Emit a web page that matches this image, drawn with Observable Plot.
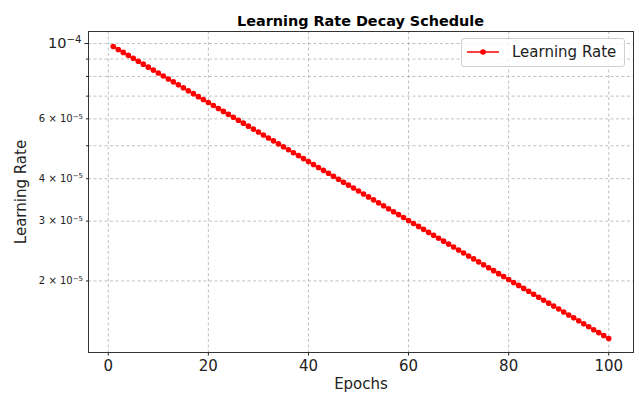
<!DOCTYPE html>
<html><head><meta charset="utf-8">
<script src="https://cdn.jsdelivr.net/npm/d3@7"></script>
<script src="https://cdn.jsdelivr.net/npm/@observablehq/plot@0.6"></script>
<style>
body{margin:0;background:#fff;font-family:"DejaVu Sans",sans-serif;}
#wrap{position:relative;width:639px;height:396px;overflow:hidden;}
#title{position:absolute;left:88px;width:545px;top:12px;text-align:center;font-weight:bold;font-size:14.4px;color:#000;line-height:18px;}
#legend{position:absolute;left:461px;top:38px;width:162px;height:27px;border:1px solid #d0d0d0;border-radius:3px;background:rgba(255,255,255,0.85);}
#legend svg{position:absolute;left:0;top:0;}
#legend span{position:absolute;left:50px;top:3px;font-size:15px;color:#222;line-height:20px;white-space:nowrap;}
</style></head>
<body>
<div id="wrap">
<div id="chart"></div>
<div id="title">Learning Rate Decay Schedule</div>
<div id="legend"><svg width="50" height="28"><line x1="5" x2="37" y1="13" y2="13" stroke="#ff0000" stroke-width="1.5"/><circle cx="21" cy="13" r="2.8" fill="#ff0000"/></svg><span>Learning Rate</span></div>
</div>
<script>
const epochs = [1,2,3,4,5,6,7,8,9,10,11,12,13,14,15,16,17,18,19,20,21,22,23,24,25,26,27,28,29,30,31,32,33,34,35,36,37,38,39,40,41,42,43,44,45,46,47,48,49,50,51,52,53,54,55,56,57,58,59,60,61,62,63,64,65,66,67,68,69,70,71,72,73,74,75,76,77,78,79,80,81,82,83,84,85,86,87,88,89,90,91,92,93,94,95,96,97,98,99,100];
const learningRate = [
9.802e-5,9.608e-5,9.418e-5,9.231e-5,9.048e-5,8.869e-5,8.694e-5,8.521e-5,8.353e-5,8.187e-5,
8.025e-5,7.866e-5,7.711e-5,7.558e-5,7.408e-5,7.262e-5,7.118e-5,6.977e-5,6.839e-5,6.703e-5,
6.571e-5,6.440e-5,6.313e-5,6.188e-5,6.065e-5,5.945e-5,5.828e-5,5.712e-5,5.599e-5,5.488e-5,
5.379e-5,5.273e-5,5.169e-5,5.066e-5,4.966e-5,4.868e-5,4.771e-5,4.677e-5,4.584e-5,4.493e-5,
4.404e-5,4.317e-5,4.232e-5,4.148e-5,4.066e-5,3.985e-5,3.906e-5,3.829e-5,3.753e-5,3.679e-5,
3.606e-5,3.535e-5,3.465e-5,3.396e-5,3.329e-5,3.263e-5,3.198e-5,3.135e-5,3.073e-5,3.012e-5,
2.952e-5,2.894e-5,2.837e-5,2.780e-5,2.725e-5,2.671e-5,2.619e-5,2.567e-5,2.516e-5,2.466e-5,
2.417e-5,2.369e-5,2.322e-5,2.276e-5,2.231e-5,2.187e-5,2.144e-5,2.101e-5,2.060e-5,2.019e-5,
1.979e-5,1.940e-5,1.901e-5,1.864e-5,1.827e-5,1.791e-5,1.755e-5,1.720e-5,1.686e-5,1.653e-5,
1.620e-5,1.588e-5,1.557e-5,1.526e-5,1.496e-5,1.466e-5,1.437e-5,1.409e-5,1.381e-5,1.353e-5];
const xTicks = [0,20,40,60,80,100];
const yMajorTicks = [1e-4];
const yMinorTicks = [2e-5,3e-5,4e-5,5e-5,6e-5,7e-5,8e-5,9e-5];
const yMinorLabels = {"2e-5":"2","3e-5":"3","4e-5":"4","6e-5":"6"};

const data = epochs.map((e,i)=>({epoch:e, lr:learningRate[i]}));

const fmtKey = v => Math.round(v/1e-5) + "e-5";

const chart = Plot.plot({
  width: 639,
  height: 396,
  marginTop: 31,
  marginBottom: 44,
  marginLeft: 88,
  marginRight: 6,
  style: {fontFamily: "DejaVu Sans, sans-serif", color: "#222", background: "#fff"},
  x: {domain: [-3.95, 104.95], axis: null},
  y: {type: "log", domain: [1.231e-5, 1.085e-4], axis: null},
  marks: [
    Plot.gridX(xTicks, {stroke: "#b0b0b0", strokeOpacity: 1, strokeWidth: 0.8, strokeDasharray: "3,2.5"}),
    Plot.gridY(yMajorTicks.concat(yMinorTicks), {stroke: "#b0b0b0", strokeOpacity: 1, strokeWidth: 0.8, strokeDasharray: "3,2.5"}),
    Plot.axisX(xTicks, {tickSize: 3.5, tickPadding: 4.5, fontSize: 15, tickFormat: d => String(d), label: null}),
    Plot.axisY(yMajorTicks, {tickSize: 3.5, tickPadding: 3.5, fontSize: 14.5, tickFormat: () => "10|−4", label: null}),
    Plot.axisY(yMinorTicks, {tickSize: 2, tickPadding: 3.5, fontSize: 10, tickFormat: v => yMinorLabels[fmtKey(v)] ? yMinorLabels[fmtKey(v)] + " × 10|−5" : "", label: null}),
    Plot.line(data, {x: "epoch", y: "lr", stroke: "#ff0000", strokeWidth: 1.5}),
    Plot.dot(data, {x: "epoch", y: "lr", fill: "#ff0000", r: 2.8}),
    Plot.frame({stroke: "#333", strokeWidth: 1}),
    Plot.text(["Epochs"], {frameAnchor: "bottom", dy: 36, fontSize: 15, fill: "#222"}),
    Plot.text(["Learning Rate"], {frameAnchor: "left", textAnchor: "middle", dx: -67, rotate: -90, fontSize: 15, fill: "#222"})
  ]
});

document.getElementById("chart").appendChild(chart);

// render superscripts for the log tick labels
d3.select(chart).selectAll("text").each(function() {
  const t = this.textContent;
  if (t.includes("|")) {
    const [base, exp] = t.split("|");
    const sel = d3.select(this);
    sel.text(null);
    sel.append("tspan").text(base);
    sel.append("tspan").attr("dy", "-0.5em").attr("font-size", "0.7em").text(exp);
  }
});
</script>
</body></html>
